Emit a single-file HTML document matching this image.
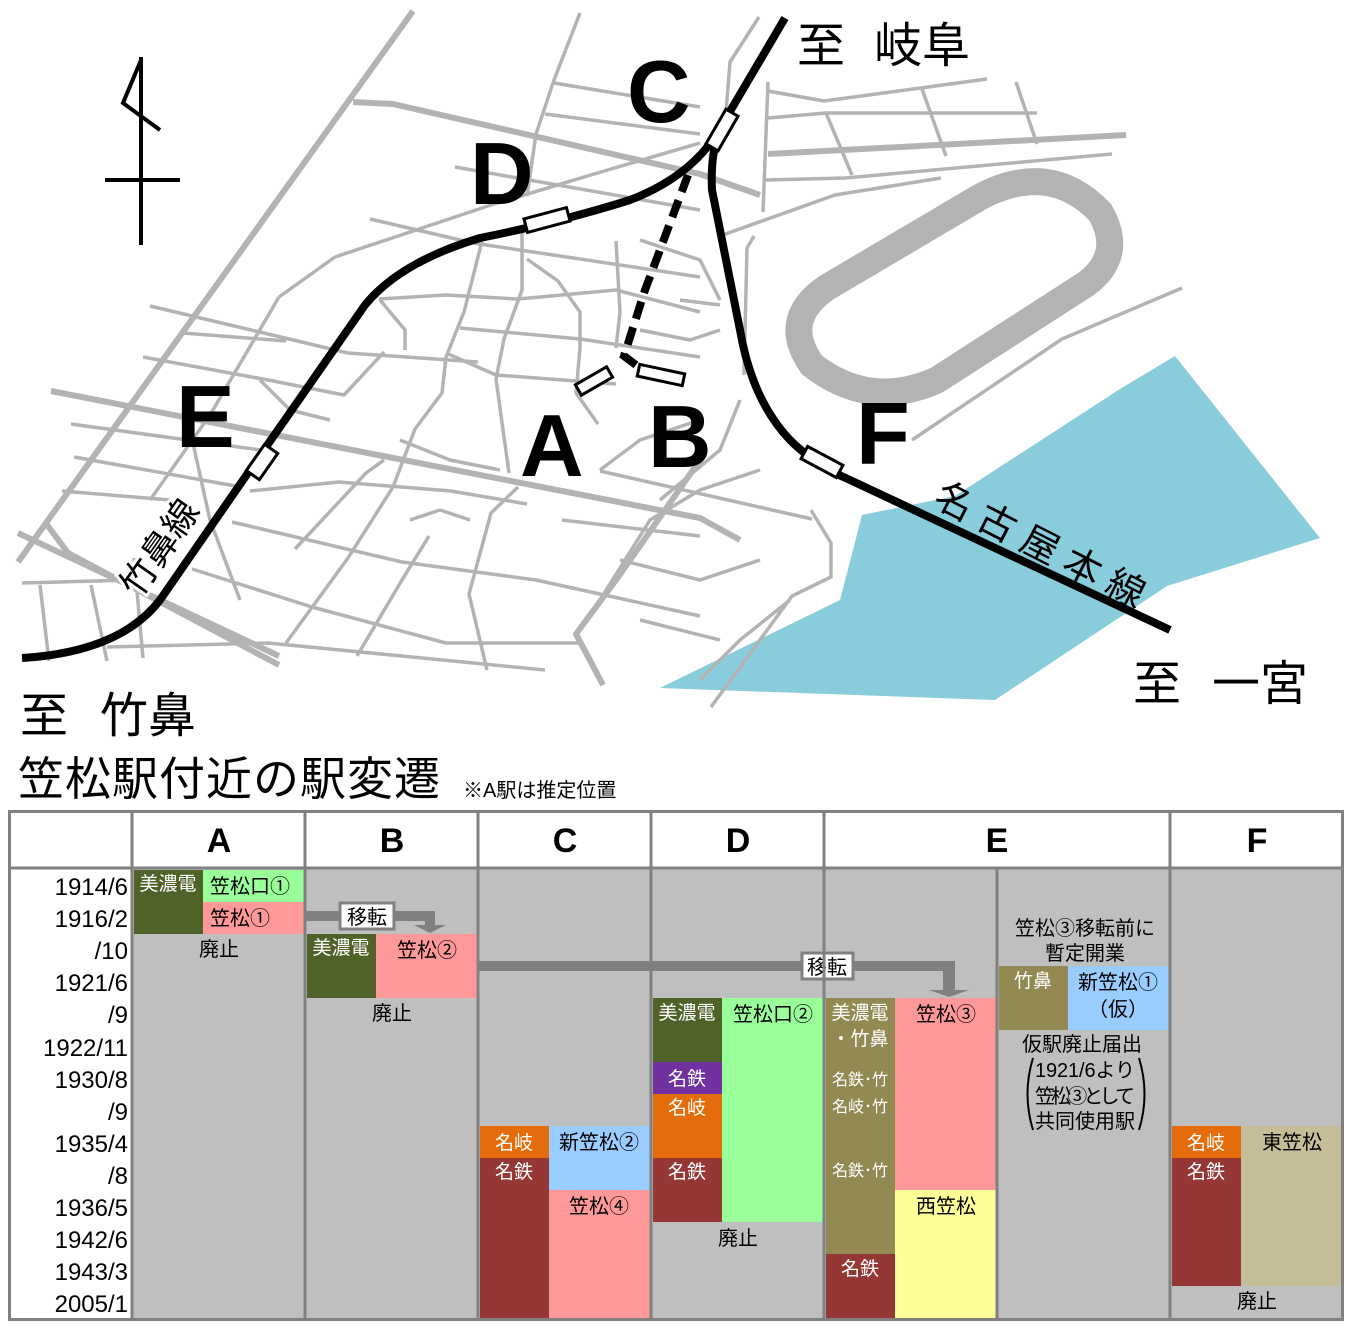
<!DOCTYPE html>
<html><head><meta charset="utf-8"><style>
html,body{margin:0;padding:0;background:#fff;}
svg{display:block;}
.j{font-family:"Liberation Sans","Noto Sans CJK JP",sans-serif;}
</style></head><body>
<svg width="1353" height="1333" viewBox="0 0 1353 1333" xmlns="http://www.w3.org/2000/svg" class="j">
<!-- water -->
<polygon points="660,688 840,600 862,515 955,496 1120,389 1175,356 1320,538 1167,586 995,700" fill="#89cddc"/>
<!-- racetrack -->
<path d="M826,288 L980,197 Q1050,160 1100,212 Q1125,255 1086,284 L937,380 Q870,410 812,365 Q780,320 826,288 Z" fill="none" stroke="#b3b3b3" stroke-width="27"/>
<!-- streets thick -->
<g fill="none" stroke="#b3b3b3" stroke-width="6" stroke-linejoin="round">
<polyline points="413,11 18,562"/>
<polyline points="353,102 393,104 700,174 760,195"/>
<polyline points="51,391 700,518 740,540"/>
<polyline points="18,533 279,656"/>
<polyline points="45,522 68,553 279,665"/>
<polyline points="700,460 616,580 576,634 603,685"/>
<polyline points="768,154 1126,135"/>
</g>
<g fill="none" stroke="#b3b3b3" stroke-width="3.5" stroke-linejoin="round">
<polyline points="580,13 554,80 536,134 527,196"/>
<polyline points="554,83 700,107"/>
<polyline points="545,114 700,134"/>
<polyline points="455,167 700,210"/>
<polyline points="370,219 473,243 700,277"/>
<polyline points="335,257 491,205 594,174 700,143"/>
<polyline points="279,297 335,257"/>
<polyline points="279,297 210,415 150,500"/>
<polyline points="150,306 348,353 478,362"/>
<polyline points="183,333 286,341"/>
<polyline points="143,357 268,380 344,395 384,352"/>
<polyline points="71,424 268,451"/>
<polyline points="74,457 241,487"/>
<polyline points="62,491 170,500"/>
<polyline points="379,299 446,295 518,299 616,290 700,312"/>
<polyline points="460,328 580,339 700,357"/>
<polyline points="446,353 496,375 616,384"/>
<polyline points="482,241 464,312 446,357 442,393 415,429 393,487 348,558 286,643"/>
<polyline points="522,232 522,290 504,339 496,379 509,473"/>
<polyline points="527,259 558,281 580,312 580,348 576,393 598,424"/>
<polyline points="616,241 620,312 616,348"/>
<polyline points="192,569 312,607 446,643 580,643"/>
<polyline points="232,522 402,562 536,580 700,616"/>
<polyline points="250,491 339,482 451,491 527,504"/>
<polyline points="107,647 268,643 402,656 545,670"/>
<polyline points="22,583 134,580"/>
<polyline points="40,585 49,661"/>
<polyline points="91,585 107,661"/>
<polyline points="134,558 143,658"/>
<polyline points="295,549 366,473 384,460"/>
<polyline points="357,656 402,580 429,536"/>
<polyline points="487,670 469,594 491,513 518,487"/>
<polyline points="562,520 700,536"/>
<polyline points="380,300 405,330 405,350"/>
<polyline points="260,380 290,410 330,420"/>
<polyline points="190,430 210,520 240,600"/>
<polyline points="400,440 450,460 500,470"/>
<polyline points="410,520 440,510 470,520"/>
<polyline points="759,17 730,62 725,125"/>
<polyline points="768,82 763,212"/>
<polyline points="768,91 824,101 987,79"/>
<polyline points="768,118 826,113 1037,113"/>
<polyline points="766,180 845,178 1112,154"/>
<polyline points="826,113 852,175"/>
<polyline points="922,89 946,156"/>
<polyline points="1016,82 1037,144"/>
<polyline points="720,236 835,195 941,178"/>
<polyline points="754,236 747,248 744,375"/>
<polyline points="1182,288 1062,339 912,440"/>
<polyline points="600,471 812,519"/>
<polyline points="811,510 831,543 831,577 792,596 711,707"/>
<polyline points="640,240 700,260 720,300"/>
<polyline points="680,300 720,305"/>
<polyline points="640,330 690,340 720,330"/>
<polyline points="600,470 640,440 700,420"/>
<polyline points="620,560 700,580 760,560"/>
<polyline points="640,620 720,640"/>
<polyline points="600,600 650,520 700,490 760,470"/>
<polyline points="700,680 740,640 790,600"/>
<polyline points="660,500 720,450 740,400"/>
</g>
<!-- dashed line -->
<polyline points="688,175 645,290 624,356 640,368" fill="none" stroke="#000" stroke-width="8" stroke-dasharray="18,9"/>
<!-- railway lines -->
<g fill="none" stroke="#000" stroke-width="8" stroke-linecap="butt">
<path d="M785,18 L722,125 Q710,150 712,190 L740,330 Q752,400 790,440 Q815,465 850,480 L1170,630"/>
<path d="M722,125 Q695,175 630,200 Q560,222 480,238 Q400,262 365,305 L250,470 L160,600 Q120,652 22,658"/>
</g>
<!-- stations -->
<g fill="#fff" stroke="#000" stroke-width="3">
<rect x="-20" y="-7" width="40" height="14" transform="translate(722,130) rotate(-60)"/>
<rect x="-22" y="-7" width="44" height="14" transform="translate(547,220) rotate(-15)"/>
<rect x="-16" y="-8" width="32" height="16" transform="translate(262,462) rotate(-55)"/>
<rect x="-20" y="-7" width="40" height="14" transform="translate(822,462) rotate(28)"/>
<rect x="-18" y="-6" width="36" height="12" transform="translate(594,381) rotate(-30)"/>
<rect x="-23" y="-6" width="46" height="12" transform="translate(661,375) rotate(12)"/>
</g>
<!-- station letters -->
<g font-family="Liberation Sans" font-weight="bold" font-size="88" fill="#000">
<text x="627" y="122">C</text>
<text x="470" y="204">D</text>
<text x="176" y="447">E</text>
<text x="520" y="476">A</text>
<text x="648" y="467">B</text>
<text x="856" y="464">F</text>
</g>
<!-- north arrow -->
<g fill="none" stroke="#000" stroke-width="4">
<line x1="141" y1="57" x2="141" y2="245"/>
<line x1="105" y1="180" x2="180" y2="180"/>
<polyline points="141,60 123,103 160,130"/>
</g>
<!-- place labels -->
<g font-size="48" fill="#000">
<text x="797" y="62">至</text><text x="874" y="62">岐阜</text>
<text x="20" y="732">至</text><text x="100" y="732">竹鼻</text>
<text x="1133" y="700">至</text><text x="1212" y="700">一宮</text>
</g>
<g transform="translate(160,548) rotate(-55)">
<text x="0" y="12" font-size="36" text-anchor="middle" stroke="#fff" stroke-width="6" fill="#fff">竹鼻線</text>
<text x="0" y="12" font-size="36" text-anchor="middle" fill="#000">竹鼻線</text>
</g>
<g transform="translate(1040,545) rotate(27)">
<text x="0" y="13" font-size="38" text-anchor="middle" textLength="230" fill="#000">名古屋本線</text>
</g>
<!-- title -->
<text x="18" y="795" font-size="46" textLength="422" fill="#000">笠松駅付近の駅変遷</text>
<text x="463" y="797" font-size="20" fill="#000">※A駅は推定位置</text>

<!-- TABLE -->
<rect x="133" y="869" width="1209" height="450" fill="#bfbfbf"/>
<rect x="134" y="870" width="69" height="64" fill="#4f6228"/>
<rect x="203" y="870" width="101" height="32" fill="#99ff99"/>
<rect x="203" y="902" width="101" height="32" fill="#ff9999"/>
<rect x="307" y="934" width="69" height="64" fill="#4f6228"/>
<rect x="376" y="934" width="101" height="64" fill="#ff9999"/>
<rect x="480" y="1126" width="69" height="32" fill="#e46c0a"/>
<rect x="480" y="1158" width="69" height="160" fill="#953735"/>
<rect x="549" y="1126" width="101" height="64" fill="#99ccff"/>
<rect x="549" y="1190" width="101" height="128" fill="#ff9999"/>
<rect x="653" y="998" width="69" height="64" fill="#4f6228"/>
<rect x="653" y="1062" width="69" height="32" fill="#7030a0"/>
<rect x="653" y="1094" width="69" height="64" fill="#e46c0a"/>
<rect x="653" y="1158" width="69" height="64" fill="#953735"/>
<rect x="722" y="998" width="101" height="224" fill="#99ff99"/>
<rect x="826" y="998" width="69" height="256" fill="#938953"/>
<rect x="826" y="1254" width="69" height="64" fill="#953735"/>
<rect x="895" y="998" width="101" height="192" fill="#ff9999"/>
<rect x="895" y="1190" width="101" height="128" fill="#ffff99"/>
<rect x="999" y="966" width="69" height="64" fill="#938953"/>
<rect x="1068" y="966" width="101" height="64" fill="#99ccff"/>
<rect x="1172" y="1126" width="69" height="32" fill="#e46c0a"/>
<rect x="1172" y="1158" width="69" height="128" fill="#953735"/>
<rect x="1241" y="1126" width="101" height="160" fill="#c4bd97"/>

<!-- arrows -->
<g fill="#808080">
<rect x="305" y="911" width="130" height="10"/>
<rect x="425" y="911" width="10" height="16"/>
<polygon points="414,925 446,925 430,933"/>
<rect x="478" y="961" width="477" height="10"/>
<rect x="943" y="961" width="12" height="30"/>
<polygon points="929,990 969,990 949,997"/>
</g>
<rect x="340" y="903" width="54" height="26" fill="#fff" stroke="#808080" stroke-width="3"/>
<rect x="802" y="953" width="51" height="26" fill="#fff" stroke="#808080" stroke-width="3"/>
<text x="367" y="924" font-size="20" text-anchor="middle">移転</text>
<text x="827" y="974" font-size="20" text-anchor="middle">移転</text>

<!-- table grid -->
<g stroke="#808080" stroke-width="3" fill="none">
<rect x="9.5" y="811.5" width="1333" height="508"/>
<line x1="9" y1="868" x2="1343" y2="868"/>
<line x1="132" y1="811" x2="132" y2="1320"/>
<line x1="305" y1="811" x2="305" y2="1320"/>
<line x1="478" y1="811" x2="478" y2="1320"/>
<line x1="651" y1="811" x2="651" y2="1320"/>
<line x1="824" y1="811" x2="824" y2="1320"/>
<line x1="997" y1="868" x2="997" y2="1320"/>
<line x1="1170" y1="811" x2="1170" y2="1320"/>
</g>
<g font-family="Liberation Sans" font-weight="bold" font-size="34" text-anchor="middle">
<text x="219" y="852">A</text>
<text x="392" y="852">B</text>
<text x="565" y="852">C</text>
<text x="738" y="852">D</text>
<text x="997" y="852">E</text>
<text x="1257" y="852">F</text>
</g>
<g font-size="24" text-anchor="end">
<text x="128" y="895">1914/6</text>
<text x="128" y="927">1916/2</text>
<text x="128" y="959">/10</text>
<text x="128" y="991">1921/6</text>
<text x="128" y="1023">/9</text>
<text x="128" y="1056">1922/11</text>
<text x="128" y="1088">1930/8</text>
<text x="128" y="1120">/9</text>
<text x="128" y="1152">1935/4</text>
<text x="128" y="1184">/8</text>
<text x="128" y="1216">1936/5</text>
<text x="128" y="1248">1942/6</text>
<text x="128" y="1280">1943/3</text>
<text x="128" y="1312">2005/1</text>
</g>
<g font-size="19" fill="#fff" text-anchor="middle">
<text x="168" y="890">美濃電</text>
<text x="341" y="954">美濃電</text>
<text x="514" y="1149">名岐</text>
<text x="514" y="1178">名鉄</text>
<text x="687" y="1019">美濃電</text>
<text x="687" y="1085">名鉄</text>
<text x="687" y="1114">名岐</text>
<text x="687" y="1178">名鉄</text>
<text x="860" y="1019">美濃電</text>
<text x="860" y="1045">・竹鼻</text>
<text x="860" y="1275">名鉄</text>
<text x="1033" y="987">竹鼻</text>
<text x="1206" y="1149">名岐</text>
<text x="1206" y="1178">名鉄</text>
</g>
<g font-size="16" fill="#fff" text-anchor="middle">
<text x="860" y="1085">名鉄･竹</text>
<text x="860" y="1112">名岐･竹</text>
<text x="860" y="1176">名鉄･竹</text>
</g>
<g font-size="20" fill="#000" text-anchor="middle">
<text x="250" y="893">笠松口①</text>
<text x="240" y="925">笠松①</text>
<text x="219" y="956">廃止</text>
<text x="427" y="957">笠松②</text>
<text x="392" y="1020">廃止</text>
<text x="599" y="1149">新笠松②</text>
<text x="599" y="1213">笠松④</text>
<text x="773" y="1021">笠松口②</text>
<text x="738" y="1245">廃止</text>
<text x="946" y="1021">笠松③</text>
<text x="946" y="1213">西笠松</text>
<text x="1085" y="935">笠松③移転前に</text>
<text x="1085" y="960">暫定開業</text>
<text x="1118" y="989">新笠松①</text>
<text x="1118" y="1016">（仮）</text>
<text x="1082" y="1051">仮駅廃止届出</text>
<text x="1085" y="1077" textLength="100">1921/6より</text>
<text x="1085" y="1103" textLength="100">笠松③として</text>
<text x="1085" y="1128" textLength="100">共同使用駅</text>
<text x="1292" y="1149">東笠松</text>
<text x="1257" y="1308">廃止</text>
</g>
<g fill="none" stroke="#000" stroke-width="2">
<path d="M1033,1058 Q1022,1094 1033,1130"/>
<path d="M1139,1058 Q1150,1094 1139,1130"/>
</g>
</svg>
</body></html>
